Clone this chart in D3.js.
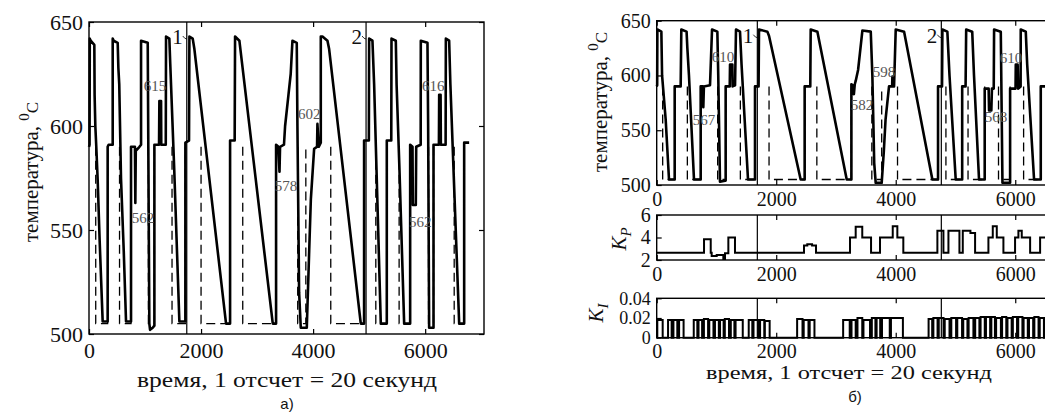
<!DOCTYPE html>
<html lang="en">
<head>
<meta charset="utf-8">
<title>температура</title>
<script src="https://cdn.jsdelivr.net/npm/d3@7"></script>
<style>
body { margin: 0; background: #fff; }
svg text { font-family: "Liberation Serif", "Times New Roman", Tinos, Times, serif; fill: #111; }
.tk text { font-size: 22px; }
.tk line { stroke: #000; stroke-width: 1.2px; }
.tk .domain { display: none; }
.frame { fill: none; stroke: #000; stroke-width: 1.4px; }
.temp { fill: none; stroke: #000; stroke-width: 2.6px; stroke-linejoin: round; }
.setp { fill: none; stroke: #000; stroke-width: 1.3px; stroke-dasharray: 9,5; }
.gain { fill: none; stroke: #000; stroke-width: 2px; }
.mark { stroke: #000; stroke-width: 1.2px; }
.note { font-size: 15px; fill: #555; }
.big { font-size: 21px; }
.cap { font-family: "Liberation Sans", Arial, sans-serif !important; font-size: 15px; }
</style>
</head>
<body>
<svg id="fig" width="1045" height="418"></svg>
<script>
// ---- data ----
var xTicks = [0, 2000, 4000, 6000];
var tempTicks = [500, 550, 600, 650];
var kpTicks = [2, 4, 6];
var kiTicks = [0, 0.02, 0.04];

// а) temperature, [sample, degC]
var tempA = [
 [0,590],[10,591],[14,642],[30,641],[95,639],[100,615],[113,600],[130,590],[155,574],[190,545],[244,506],[333,506],
 [333,590],[350,591],[423,591],[423,642],[440,641],[512,640],[524,628],[540,620],[571,575],[620,540],[661,506],[750,506],
 [750,590],[820,590],[827,563],[835,588],[900,590],[929,591],[929,641],[1048,640],[1077,505],[1090,502],[1137,503],[1167,504],
 [1167,591],[1250,591],[1256,612],[1286,612],[1290,591],[1370,591],[1375,643],[1434,642],[1450,630],[1520,580],[1613,506],[1702,506],
 [1720,506],[1720,592],[1785,593],[1792,643],[1851,642],[1881,637],[2446,505],[2506,505],
 [2518,505],[2518,593],[2600,593],[2607,643],[2684,641],[3280,505],[3339,505],
 [3339,591],[3380,590],[3400,578],[3410,590],[3480,591],[3500,600],[3560,615],[3600,625],[3631,641],[3708,640],[3720,600],[3750,520],[3780,503],[3869,503],
 [3887,503],[3930,540],[3960,565],[4018,589],[4070,590],[4077,601],[4100,590],[4137,592],[4137,643],[4167,643],[4256,641],[4286,637],[4851,505],[4881,505],
 [4910,505],[4910,593],[4995,593],[5000,642],[5059,641],[5089,620],[5120,590],[5208,505],[5297,505],
 [5315,505],[5315,593],[5395,593],[5399,642],[5476,641],[5490,620],[5540,580],[5625,505],[5714,505],
 [5732,505],[5732,591],[5774,590],[5780,562],[5833,562],[5840,590],[5920,591],[5922,641],[6041,640],[6053,600],[6071,503],[6131,503],
 [6149,503],[6149,591],[6245,591],[6250,615],[6275,615],[6280,591],[6365,591],[6369,642],[6428,641],[6450,620],[6607,505],[6666,505],
 [6696,505],[6696,592],[6785,592]
];
// setpoint drops to 505 and returns, а)
var setDropA = [120, 545, 1060, 1482, 2000, 2744, 3725, 4315, 5119, 5535, 6060, 6518];
var setRiseA = [333, 750, 1167, 1720, 2518, 3339, 3870, 4910, 5315, 5732, 6149, 6696];
var marksA = [1745, 4945];
var notesA = [
 {t: 1179, v: 619, s: "615"}, {t: 964, v: 556, s: "562"}, {t: 3518, v: 571, s: "578"},
 {t: 3929, v: 606, s: "602"}, {t: 6143, v: 619, s: "616"}, {t: 5911, v: 554, s: "562"}
];

// б) temperature
var tempB = [
 [0,590],[8,591],[11,642],[78,640],[90,600],[150,560],[206,505],[290,505],
 [301,505],[301,590],[401,590],[412,642],[500,640],[513,625],[540,600],[624,505],[708,505],
 [736,505],[736,590],[775,590],[780,571],[790,590],[892,591],[926,642],[1015,640],[1030,600],[1059,503],[1143,504],
 [1154,504],[1154,590],[1222,590],[1227,610],[1266,610],[1270,590],[1311,591],[1327,642],[1394,640],[1420,610],[1528,505],[1617,505],
 [1645,505],[1645,590],[1705,590],[1712,642],[1852,640],[1880,636],[2409,505],[2465,505],
 [2476,505],[2476,590],[2570,590],[2577,642],[2689,640],[3180,505],[3246,505],
 [3258,505],[3258,592],[3290,590],[3300,583],[3315,592],[3330,595],[3370,605],[3400,620],[3442,641],[3582,640],[3609,600],[3640,520],[3665,502],[3749,502],
 [3765,502],[3800,530],[3830,560],[3888,590],[3940,590],[3944,599],[3960,590],[3972,590],[4000,642],[4140,640],[4613,505],[4697,505],
 [4708,505],[4708,590],[4775,590],[4781,642],[4864,640],[4900,600],[5004,505],[5088,505],
 [5112,505],[5112,590],[5169,590],[5179,642],[5280,640],[5310,600],[5394,505],[5478,505],
 [5489,505],[5489,588],[5555,588],[5562,568],[5600,568],[5610,588],[5640,588],[5646,642],[5758,640],[5786,502],[5898,502],
 [5914,502],[5914,588],[6005,588],[6009,610],[6040,610],[6050,588],[6090,590],[6092,642],[6176,640],[6200,610],[6315,505],[6405,505],
 [6427,505],[6427,590],[6700,590]
];
var setDropB = [100, 513, 1020, 1400, 1880, 2680, 3600, 4030, 4840, 5210, 5720, 6140];
var setRiseB = [301, 736, 1154, 1645, 2476, 3258, 3765, 4708, 5112, 5489, 5914, 6427];
var marksB = [1684, 4763];
var notesB = [
 {t: 792, v: 559, s: "567"}, {t: 1110, v: 617, s: "610"}, {t: 3436, v: 573, s: "582"},
 {t: 3804, v: 603, s: "598"}, {t: 5680, v: 562, s: "568"}, {t: 5930, v: 616, s: "610"}
];

// Kp, step values [sample, Kp]
var kpSteps = [
 [0,2.65],[792,3.85],[904,2.65],[920,2.35],[1004,2.45],[1115,2.1],[1143,2.6],[1199,4.0],[1310,2.65],
 [2465,3.3],[2520,3.4],[2600,3.3],[2666,2.65],
 [3235,4.0],[3330,4.95],[3440,4.0],[3587,2.65],
 [3737,4.0],[3950,5.0],[4027,4.0],[4127,2.65],
 [4697,4.6],[4798,2.65],[4882,4.6],[5066,2.65],[5122,4.6],[5250,4.4],[5328,2.65],
 [5551,4.0],[5624,5.0],[5691,4.0],[5802,2.65],[5997,4.0],[6053,4.6],[6109,4.0],[6249,2.65],
 [6416,4.0],[6700,4.0]
];
// Ki pulses [start, end, value]
var kiPulses = [
 [10,100,0.018],[190,250,0.018],[280,345,0.018],[375,450,0.018],
 [620,680,0.018],[700,760,0.018],[790,860,0.019],[880,950,0.018],[975,1040,0.018],[1060,1120,0.018],[1140,1210,0.019],[1240,1300,0.018],[1320,1440,0.018],
 [1540,1600,0.018],[1620,1700,0.018],[1730,1800,0.018],[1810,1890,0.017],
 [2350,2440,0.019],[2460,2540,0.018],[2560,2640,0.018],
 [3120,3230,0.018],[3260,3330,0.018],[3360,3440,0.02],[3460,3570,0.018],[3600,3660,0.02],[3680,3740,0.02],[3770,3900,0.02],[3920,4120,0.02],
 [4550,4610,0.019],[4630,4700,0.02],[4720,4800,0.02],[4820,4900,0.019],[4930,5010,0.02],[5030,5110,0.02],[5130,5200,0.019],[5220,5300,0.02],
 [5330,5400,0.02],[5420,5490,0.021],[5510,5580,0.021],[5600,5660,0.021],[5680,5760,0.02],[5780,5850,0.021],[5870,5940,0.02],[5960,6030,0.021],
 [6050,6120,0.021],[6140,6210,0.02],[6230,6300,0.02],[6320,6390,0.021],[6410,6480,0.02],[6500,6570,0.02]
];

// ---- drawing ----
var svg = d3.select("#fig");

var xA = d3.scaleLinear().domain([0, 7050]).range([89, 484]);
var yA = d3.scaleLinear().domain([500, 650]).range([334, 22]);

var xB = d3.scaleLinear().domain([0, 7000]).range([656.7, 1075]);
var yB = d3.scaleLinear().domain([500, 650]).range([185, 20.7]);
var yKp = d3.scaleLinear().domain([2, 6]).range([260, 215]);
var yKi = d3.scaleLinear().domain([0, 0.04]).range([337.7, 298.3]);

function axes(x, y, yt, yfmt, padX, fs, fsY){
  var x0 = x.range()[0], x1 = x.range()[1], y0 = y.range()[0], y1 = y.range()[1];
  var g = svg.append("g");
  g.append("g").attr("class", "tk tx").attr("transform", "translate(0," + y0 + ")")
    .call(d3.axisBottom(x).tickValues(xTicks).tickSize(-5).tickPadding(padX).tickFormat(d3.format("d")));
  g.append("g").attr("class", "tk").attr("transform", "translate(0," + y1 + ")")
    .call(d3.axisTop(x).tickValues(xTicks).tickSize(-5).tickFormat(""));
  g.append("g").attr("class", "tk ty").attr("transform", "translate(" + x0 + ",0)")
    .call(d3.axisLeft(y).tickValues(yt).tickSize(-5).tickPadding(6).tickFormat(yfmt));
  g.append("g").attr("class", "tk").attr("transform", "translate(" + x1 + ",0)")
    .call(d3.axisRight(y).tickValues(yt).tickSize(-5).tickFormat(""));
  g.selectAll(".tx text").style("font-size", fs + "px");
  g.selectAll(".ty text").style("font-size", (fsY || fs) + "px");
  g.append("rect").attr("class", "frame")
    .attr("x", x0).attr("y", y1).attr("width", x1 - x0).attr("height", y0 - y1);
  return g;
}

function markers(x, y, ts){
  svg.append("g").selectAll("line").data(ts).enter().append("line")
    .attr("class", "mark")
    .attr("x1", function(d){ return x(d); }).attr("x2", function(d){ return x(d); })
    .attr("y1", y.range()[0]).attr("y2", y.range()[1]);
}

function setpoint(drop, rise){
  var pts = [];
  drop.forEach(function(d, i){
    pts.push([d, 590], [d, 505], [rise[i], 505], [rise[i], 590], null);
  });
  return pts;
}

function tempPanel(x, y, temp, drop, rise, marks, notes){
  markers(x, y, marks);
  var line = d3.line().defined(function(d){ return d; })
    .x(function(d){ return x(d[0]); }).y(function(d){ return y(d[1]); });
  svg.append("path").attr("class", "setp").attr("d", line(setpoint(drop, rise)));
  svg.append("path").attr("class", "temp").attr("d", line(temp));
  svg.append("g").selectAll("text").data(notes).enter().append("text")
    .attr("class", "note").attr("text-anchor", "middle")
    .attr("x", function(d){ return x(d.t); }).attr("y", function(d){ return y(d.v) + 5; })
    .text(function(d){ return d.s; });
  // "1", "2" next to the marker lines
  svg.append("g").selectAll("text").data(marks).enter().append("text")
    .attr("class", "big").attr("text-anchor", "end")
    .attr("x", function(d){ return x(d) - 4; }).attr("y", y(650) + 22)
    .text(function(d, i){ return i + 1; });
  svg.append("g").selectAll("path").data(marks).enter().append("path")
    .attr("fill", "none").attr("stroke", "#000").attr("stroke-width", 0.8)
    .attr("d", function(d){ var px = x(d), py = y(650) + 14; return "M" + (px - 4) + "," + py + "q2,3 4,3"; });
}

// а)
axes(xA, yA, tempTicks, d3.format("d"), 8, 22);
tempPanel(xA, yA, tempA, setDropA, setRiseA, marksA, notesA);

// б) temperature
axes(xB, yB, tempTicks, d3.format("d"), 7, 20);
tempPanel(xB, yB, tempB, setDropB, setRiseB, marksB, notesB);

// б) Kp
axes(xB, yKp, kpTicks, d3.format("d"), 7, 20);
markers(xB, yKp, marksB);
svg.append("path").attr("class", "gain")
  .attr("d", d3.line().curve(d3.curveStepAfter)
    .x(function(d){ return xB(d[0]); }).y(function(d){ return yKp(d[1]); })(kpSteps));

// б) Ki
axes(xB, yKi, kiTicks, function(d){ return d === 0 ? "0" : d.toFixed(2); }, 6, 20, 18);
markers(xB, yKi, marksB);
var kiPts = [[0, 0]];
kiPulses.forEach(function(p){ kiPts.push([p[0], 0], [p[0], p[2]], [p[1], p[2]], [p[1], 0]); });
kiPts.push([6700, 0]);
svg.append("path").attr("class", "gain")
  .attr("d", d3.line().x(function(d){ return xB(d[0]); }).y(function(d){ return yKi(d[1]); })(kiPts));

// labels
function ylab(x, y){
  var t = svg.append("text").attr("class", "big").attr("text-anchor", "middle")
    .attr("transform", "translate(" + x + "," + y + ") rotate(-90)");
  t.append("tspan").text("температура, ");
  t.append("tspan").attr("font-size", 15).attr("dy", -9).text("0");
  t.append("tspan").attr("font-size", 17).attr("dy", 9).text("C");
}
ylab(38, 172);
ylab(607, 102);

function klab(x, y, sub){
  var t = svg.append("text").attr("class", "big").attr("text-anchor", "middle")
    .attr("transform", "translate(" + x + "," + y + ") rotate(-90)");
  t.append("tspan").attr("font-style", "italic").text("K");
  t.append("tspan").attr("font-style", "italic").attr("font-size", 15).attr("dy", 5).text(sub);
}
klab(626, 239, "P");
klab(603, 313, "I");

svg.append("text").attr("class", "big").attr("text-anchor", "middle")
  .attr("x", 287).attr("y", 387).attr("textLength", 300).attr("lengthAdjust", "spacingAndGlyphs")
  .text("время, 1 отсчет = 20 секунд");
svg.append("text").attr("class", "big").attr("text-anchor", "middle").style("font-size", "19px")
  .attr("x", 849).attr("y", 379).attr("textLength", 286).attr("lengthAdjust", "spacingAndGlyphs")
  .text("время, 1 отсчет = 20 секунд");
svg.append("text").attr("class", "cap").attr("text-anchor", "middle").attr("x", 287).attr("y", 409).text("а)");
svg.append("text").attr("class", "cap").attr("text-anchor", "middle").attr("x", 855).attr("y", 402).text("б)");
</script>
</body>
</html>
